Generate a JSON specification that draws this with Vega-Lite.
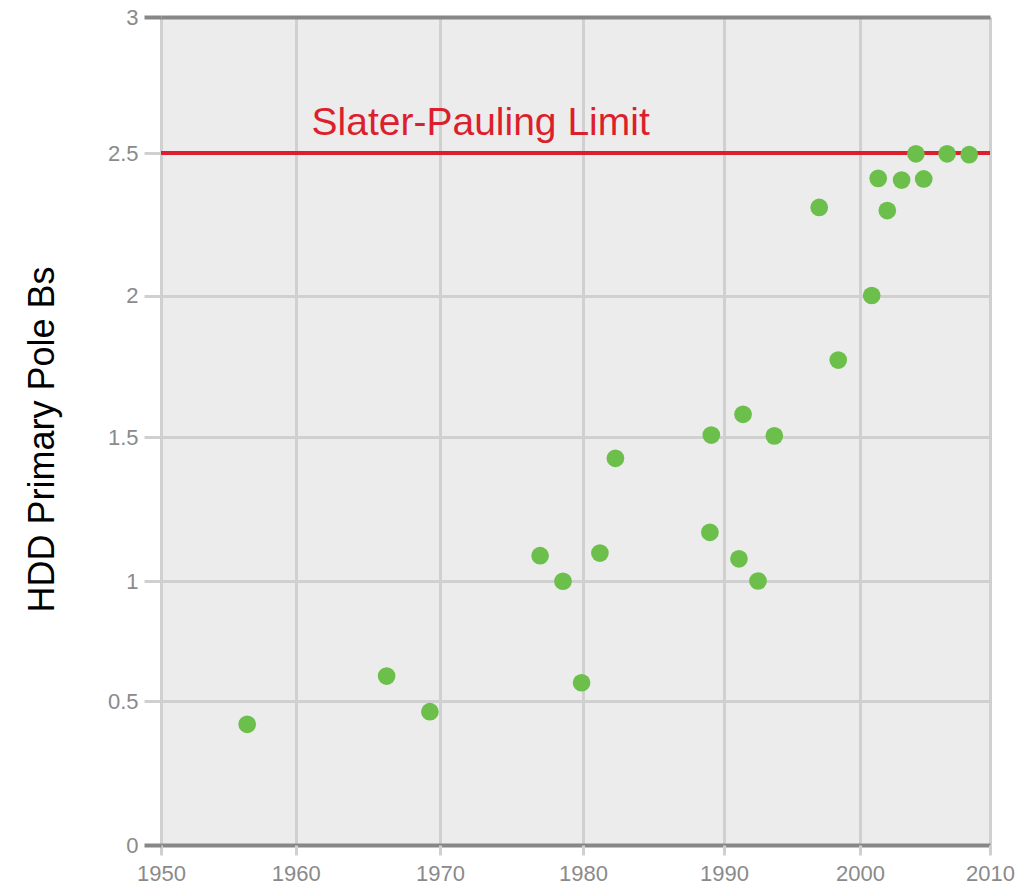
{
  "$schema": "https://vega.github.io/schema/vega-lite/v6.json",
  "width": 829,
  "height": 828,
  "autosize": {"type": "none"},
  "padding": {"left": 161, "top": 17, "right": 26, "bottom": 39},
  "background": "white",
  "config": {
    "view": {"fill": "#ececec", "stroke": null},
    "font": "Liberation Sans"
  },
  "datasets": {
    "points": [
      {"year": 1956.4, "bs": 0.419},
      {"year": 1966.3, "bs": 0.604},
      {"year": 1969.3, "bs": 0.463},
      {"year": 1977.0, "bs": 1.088},
      {"year": 1978.6, "bs": 0.999},
      {"year": 1979.9, "bs": 0.576},
      {"year": 1981.2, "bs": 1.097},
      {"year": 1982.3, "bs": 1.426},
      {"year": 1989.0, "bs": 1.169},
      {"year": 1989.1, "bs": 1.507},
      {"year": 1991.1, "bs": 1.077},
      {"year": 1991.4, "bs": 1.58},
      {"year": 1992.5, "bs": 1.0},
      {"year": 1993.7, "bs": 1.504},
      {"year": 1997.0, "bs": 2.309},
      {"year": 1998.4, "bs": 1.772},
      {"year": 2000.9, "bs": 2.0},
      {"year": 2001.4, "bs": 2.411},
      {"year": 2002.1, "bs": 2.298},
      {"year": 2003.2, "bs": 2.405},
      {"year": 2004.3, "bs": 2.497},
      {"year": 2004.9, "bs": 2.409},
      {"year": 2006.7, "bs": 2.497},
      {"year": 2008.4, "bs": 2.494}
    ],
    "limit": [
      {"year": 1961.1, "bs": 2.5, "label": "Slater-Pauling Limit"}
    ]
  },
  "layer": [
    {
      "data": {"name": "limit"},
      "mark": {"type": "rule", "color": "#dc1f2d", "strokeWidth": 4},
      "encoding": {
        "y": {
          "field": "bs", "type": "quantitative", "title": "HDD Primary Pole Bs",
          "scale": {"domain": [0, 0.5, 1, 1.5, 2, 2.5, 3], "range": [828, 684, 564, 420, 278.5, 136, 0], "zero": false, "nice": false},
          "axis": {
            "values": [0, 0.5, 1, 1.5, 2, 2.5, 3], "format": "~g",
            "domain": false, "ticks": true, "tickSize": 17,
            "tickWidth": {"condition": {"test": "datum.value === 0 || datum.value === 3", "value": 4}, "value": 3},
            "tickColor": {"condition": {"test": "datum.value === 0 || datum.value === 3", "value": "#878787"}, "value": "#d0d0d0"},
            "grid": true,
            "gridWidth": {"condition": {"test": "datum.value === 0 || datum.value === 3", "value": 4}, "value": 3},
            "gridColor": {"condition": {"test": "datum.value === 0 || datum.value === 3", "value": "#878787"}, "value": "#d0d0d0"},
            "labelFontSize": 22, "labelColor": "#8a8a8a", "labelPadding": 6, "labelFont": "Liberation Sans",
            "titleFontSize": 36, "titleColor": "#000000", "titleFontWeight": "normal", "titleFont": "Liberation Sans",
            "titleAngle": -90, "titleX": -119, "titleY": 422, "titleAlign": "center", "titleBaseline": "middle"
          }
        }
      }
    },
    {
      "data": {"name": "limit"},
      "mark": {"type": "text", "color": "#dc1f2d", "fontSize": 39, "align": "left", "baseline": "alphabetic", "dy": -18, "font": "Liberation Sans"},
      "encoding": {
        "x": {
          "field": "year", "type": "quantitative", "title": null,
          "scale": {"domain": [1950, 1960, 1970, 1980, 1990, 2000, 2010], "range": [0, 134.7, 279, 422, 563, 699, 829], "zero": false, "nice": false},
          "axis": {
            "values": [1950, 1960, 1970, 1980, 1990, 2000, 2010], "format": "d",
            "domain": false, "ticks": true, "tickSize": 10, "tickWidth": 3, "tickColor": "#d0d0d0",
            "grid": true, "gridWidth": 3, "gridColor": "#d0d0d0",
            "labelFontSize": 22, "labelColor": "#8a8a8a", "labelPadding": 8, "labelFont": "Liberation Sans",
            "labelFlush": false, "labelOverlap": false
          }
        },
        "y": {
          "field": "bs", "type": "quantitative", "title": "HDD Primary Pole Bs",
          "scale": {"domain": [0, 0.5, 1, 1.5, 2, 2.5, 3], "range": [828, 684, 564, 420, 278.5, 136, 0], "zero": false, "nice": false}
        },
        "text": {"field": "label"}
      }
    },
    {
      "data": {"name": "points"},
      "mark": {"type": "circle", "size": 314, "color": "#6dbf4b", "opacity": 1},
      "encoding": {
        "x": {
          "field": "year", "type": "quantitative", "title": null,
          "scale": {"domain": [1950, 1960, 1970, 1980, 1990, 2000, 2010], "range": [0, 134.7, 279, 422, 563, 699, 829], "zero": false, "nice": false}
        },
        "y": {
          "field": "bs", "type": "quantitative", "title": "HDD Primary Pole Bs",
          "scale": {"domain": [0, 0.5, 1, 1.5, 2, 2.5, 3], "range": [828, 684, 564, 420, 278.5, 136, 0], "zero": false, "nice": false}
        }
      }
    }
  ]
}
